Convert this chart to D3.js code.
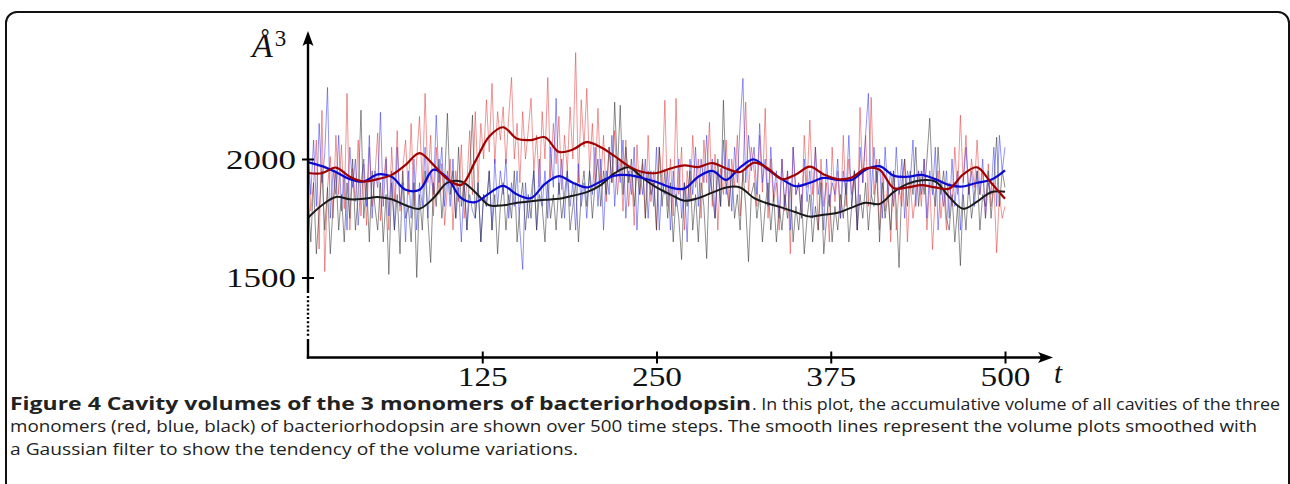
<!DOCTYPE html>
<html><head><meta charset="utf-8">
<script src="https://cdn.jsdelivr.net/npm/d3@7/dist/d3.min.js"></script>
<style>
html,body{margin:0;padding:0;background:#fff;}
svg{display:block;}
</style></head>
<body>
<svg id="chart" width="1290" height="484"></svg>
<script>
// ---- data ----
const rawSteps = d3.range(0, 501, 2);      // time steps of raw samples
const smoothSteps = d3.range(0, 501, 10);  // time steps of smoothed samples
const yTicks = [1500, 2000];
const xTicks = [125, 250, 375, 500];

const redRaw = [
2040,1780,1900,2080,1620,2205,1525,1880,2010,1750,
2100,1850,2060,1790,2277,1700,1960,1820,2080,1760,
1980,1720,2050,1800,1930,2110,1740,1900,2010,1700,
2050,1820,2120,1780,1960,2080,1850,2150,1800,2000,
2180,1880,2277,1900,2100,1760,2050,1850,1980,1720,
1880,2000,1700,1950,1820,2060,1750,1900,2120,1850,
2200,1900,2150,2000,2250,2030,2319,1980,2200,2080,
2220,1980,2180,2344,2000,2150,1900,2200,2000,2120,
2256,1950,2100,1880,2200,2000,2344,1920,2150,1980,
2180,1870,2100,1950,2220,2000,2449,1900,2250,2050,
2298,1950,2150,1880,2214,1900,2100,1820,2050,1900,
2120,1850,2000,1780,2080,1800,1950,1720,2060,1850,
1980,1750,2100,1820,1950,1700,2050,1900,2248,1800,
2000,1760,2256,1850,2050,1700,1950,1820,2100,1880,
2000,1750,2080,1900,2155,1800,2020,1700,1960,1850,
2080,1800,2000,1880,2100,1760,1950,2240,1850,2050,
1950,1800,2100,1860,2214,1750,2000,1820,1900,1700,
2000,1780,1950,1600,2050,1850,1900,1750,2100,1880,
2164,1850,2050,1700,2000,1800,1900,1650,2050,1820,
1950,1750,2100,1800,2000,1850,1950,1700,2218,1900,
2100,1800,2260,1850,2000,1700,1950,1780,1900,1650,
1950,1700,1880,1800,2000,1650,1900,1750,1850,1950,
1800,2000,1700,1900,1618,1850,1950,1750,1880,1700,
1900,1800,2050,1850,2185,1900,2100,1850,2000,1880,
2080,1850,1950,1750,1980,1800,1900,1605,1850,1750,
1800];

const blueRaw = [
2050,1850,2080,1800,2150,1900,2020,2302,1750,1950,
1850,2100,1780,1950,1700,2050,1880,2000,1720,1900,
2000,1800,2100,1750,1950,1880,2197,1800,2000,1760,
1950,1700,2050,1800,1900,1650,1950,1750,2000,1700,
1900,1800,2050,1750,1950,1850,2185,1900,2050,1800,
1950,1800,2000,1750,1880,1650,1900,1700,1850,1780,
1750,1900,1650,1850,1800,1950,1700,2000,1800,1950,
1850,2000,1750,1900,1800,1950,1700,1534,1900,1750,
1850,1950,1700,2000,1800,1950,1750,2050,1880,2256,
1850,2000,1750,1950,1800,1900,1700,1980,1800,1900,
1750,1950,1850,2050,1800,2000,1700,1950,1850,2100,
1800,2000,1900,2080,1750,1950,1850,2050,1700,1950,
1850,2000,1750,1950,1800,2050,1700,1900,1850,1950,
1700,1950,1800,2000,1750,1900,1650,2000,1850,2050,
1800,2000,1900,2100,1850,2000,1750,1950,1800,2080,
1850,2000,1780,2050,1900,2150,2340,1900,2100,1950,
2050,1850,2150,1900,2000,1800,2050,1850,1950,1750,
2000,1800,1950,1700,2050,1850,1900,1750,2000,1820,
1950,1750,2050,1850,1950,1700,2000,1800,1900,1850,
2000,1750,1950,1850,2100,1800,1950,1700,2050,1900,
2100,2277,1850,2050,1900,2000,1750,2050,1850,1950,
1800,2050,1850,2000,1750,1950,1900,2080,1800,1950,
1850,2000,1750,1950,1850,2050,1700,1900,1800,1950,
1750,2000,1800,1950,1700,1900,2050,1850,1950,1800,
1950,1850,2000,1750,1900,1850,2050,1800,2100,1950,
2050];

const blackRaw = [
1850,1650,1900,1600,1780,1950,1700,1880,1600,1800,
1950,1700,1850,1650,1900,1750,2000,1700,1850,2206,
1750,1900,1650,1950,1800,1700,1900,1650,1850,1513,
1900,1700,1850,1600,1950,1750,1800,1650,1900,1500,
1850,1700,1950,1750,1563,1900,1800,2000,1750,1900,
2193,1850,1950,1750,2050,1800,1900,1700,1950,2185,
1750,1900,1650,1850,1800,1950,1700,1850,1600,1800,
1900,1700,1850,1750,1950,1650,1800,1900,1700,1850,
1750,1950,1700,1850,1800,1650,1900,1750,1850,1700,
1900,1750,1850,1950,1700,1800,1900,1650,1850,1950,
1800,1950,1750,1900,2000,1800,1950,1850,2050,1900,
2240,1950,2227,1850,2050,1900,2000,1800,1950,1850,
2000,1750,1950,1850,1900,1700,2050,1800,1950,1750,
1900,1650,1850,1750,1576,1900,1800,1950,1700,1850,
1650,1900,1800,1580,1950,1850,1750,2000,1800,2248,
1900,1800,1950,1750,1850,1700,1950,1800,1567,1850,
1900,1750,1850,1650,1800,1900,1700,1850,1650,1800,
1700,1850,1750,1900,1650,1800,1700,1850,1600,1750,
1850,1650,1800,1700,1900,1600,1750,1850,1650,1800,
1700,1850,1750,1900,1650,1800,1950,1700,1850,1750,
1900,1700,1850,1800,1950,1650,1900,1750,1850,1700,
1950,1800,1542,1900,2000,1800,1950,1850,2050,1800,
1950,1850,2000,2172,1900,1800,2050,1850,1950,1750,
1700,1850,1650,1800,1550,1850,1700,1900,1750,1850,
1950,1700,1850,1800,1950,1750,1900,2092,1800,1950,
1880];

const redSmooth = [1941,1940,1964,1925,1905,1915,1933,1975,2025,1975,
1915,1891,1990,2095,2134,2085,2080,2092,2030,2040,
2071,2050,2012,1970,1945,1941,1960,1973,1966,1983,
1960,1945,1985,1960,1915,1935,1968,1935,1915,1922,
1960,1955,1878,1880,1890,1880,1875,1935,1965,1900,1832];

const blueSmooth = [1987,1970,1945,1915,1905,1935,1925,1870,1870,1955,
1920,1835,1818,1855,1887,1850,1835,1895,1928,1900,
1880,1905,1930,1932,1920,1903,1880,1875,1925,1950,
1912,1965,1998,1955,1915,1885,1900,1920,1912,1912,
1955,1970,1930,1925,1933,1915,1890,1884,1900,1912,1952];

const blackSmooth = [1752,1805,1840,1830,1832,1840,1830,1805,1790,1835,
1900,1905,1860,1805,1805,1815,1822,1828,1832,1845,
1860,1890,1940,1965,1920,1880,1850,1824,1835,1858,
1880,1880,1835,1812,1795,1775,1757,1765,1773,1795,
1815,1810,1860,1895,1910,1905,1840,1790,1820,1860,1862];

const captionBold = "Figure 4 Cavity volumes of the 3 monomers of bacteriorhodopsin";
const captionLines = [
  ". In this plot, the accumulative volume of all cavities of the three",
  "monomers (red, blue, black) of bacteriorhodopsin are shown over 500 time steps. The smooth lines represent the volume plots smoothed with",
  "a Gaussian filter to show the tendency of the volume variations."
];

// ---- drawing ----
const svg = d3.select("#chart");

// figure frame
svg.append("rect").attr("x", 6).attr("y", 12).attr("width", 1283).attr("height", 520)
  .attr("rx", 11).attr("ry", 11).attr("fill", "none").attr("stroke", "#111").attr("stroke-width", 2);

const x = d3.scaleLinear().domain([0, 500]).range([308, 1005]);
const y = d3.scaleLinear().domain([1500, 2000]).range([277.5, 159]);

const rawLine = d3.line().x((d, i) => x(rawSteps[i])).y(d => y(d));
const smoothLine = d3.line().x((d, i) => x(smoothSteps[i])).y(d => y(d)).curve(d3.curveCatmullRom.alpha(0.5));

const plot = svg.append("g");
plot.append("path").datum(redRaw).attr("d", rawLine).attr("fill", "none")
  .attr("stroke", "#e03030").attr("stroke-opacity", 0.5).attr("stroke-width", 1);
plot.append("path").datum(blueRaw).attr("d", rawLine).attr("fill", "none")
  .attr("stroke", "#2a2af0").attr("stroke-opacity", 0.5).attr("stroke-width", 1);
plot.append("path").datum(blackRaw).attr("d", rawLine).attr("fill", "none")
  .attr("stroke", "#333").attr("stroke-opacity", 0.55).attr("stroke-width", 1);

plot.append("path").datum(blackSmooth).attr("d", smoothLine).attr("fill", "none")
  .attr("stroke", "#1a1a1a").attr("stroke-width", 2);
plot.append("path").datum(blueSmooth).attr("d", smoothLine).attr("fill", "none")
  .attr("stroke", "#0a0ad0").attr("stroke-width", 2.2);
plot.append("path").datum(redSmooth).attr("d", smoothLine).attr("fill", "none")
  .attr("stroke", "#a00000").attr("stroke-width", 2.2);

// axes lines
const ax = svg.append("g").attr("stroke", "#000").attr("stroke-width", 2.4).attr("fill", "none");
const x0 = x(0), yBase = 357.5;
ax.append("line").attr("x1", x0).attr("x2", x0).attr("y1", y(1500)).attr("y2", 40);
ax.append("line").attr("x1", x0).attr("x2", x0).attr("y1", y(1500)).attr("y2", 293);
ax.append("line").attr("x1", x0).attr("x2", x0).attr("y1", 296).attr("y2", 338).attr("stroke-dasharray", "2,2.2");
ax.append("line").attr("x1", x0).attr("x2", x0).attr("y1", 339).attr("y2", yBase + 1.2);
ax.append("line").attr("x1", x0 - 1.2).attr("x2", 1045).attr("y1", yBase).attr("y2", yBase);

// arrowheads
svg.append("path").attr("d", `M${x0},31 L${x0 - 5.5},46 Q${x0},41 ${x0 + 5.5},46 Z`).attr("fill", "#000");
svg.append("path").attr("d", `M1053,${yBase} L1038,${yBase - 5.5} Q1043,${yBase} 1038,${yBase + 5.5} Z`).attr("fill", "#000");

// tick axes via d3
const serif = "'Liberation Serif', 'DejaVu Serif', serif";
const yAxis = d3.axisLeft(y).tickValues(yTicks).tickSize(0).tickPadding(12).tickFormat(d3.format("d"));
const gy = svg.append("g").attr("transform", `translate(${x0},0)`).call(yAxis);
gy.select(".domain").remove();
gy.selectAll(".tick").append("line").attr("x1", -6).attr("x2", 6).attr("stroke", "#000").attr("stroke-width", 2);
gy.selectAll("text").attr("font-family", serif).attr("font-size", 27)
  .attr("fill", "#111").attr("dy", "0.34em")
  .attr("textLength", 70).attr("lengthAdjust", "spacingAndGlyphs");

const xAxis = d3.axisBottom(x).tickValues(xTicks).tickSize(0).tickPadding(9).tickFormat(d3.format("d"));
const gx = svg.append("g").attr("transform", `translate(0,${yBase})`).call(xAxis);
gx.select(".domain").remove();
gx.selectAll(".tick").append("line").attr("y1", -6).attr("y2", 6).attr("stroke", "#000").attr("stroke-width", 2);
gx.selectAll("text").attr("font-family", serif).attr("font-size", 27)
  .attr("fill", "#111").attr("dy", "0.71em")
  .attr("textLength", 50).attr("lengthAdjust", "spacingAndGlyphs");

// axis titles
svg.append("text").attr("x", 1054).attr("y", 383).attr("font-family", serif)
  .attr("font-style", "italic").attr("font-size", 29).attr("fill", "#111").text("t");
const yl = svg.append("text").attr("x", 252).attr("y", 57).attr("font-family", serif)
  .attr("font-size", 34).attr("fill", "#111");
yl.append("tspan").attr("font-style", "italic").text("Å");
yl.append("tspan").attr("font-size", 23).attr("dx", 2).attr("dy", -11).text("3");

// caption
const capFont = "'Open Sans', 'Noto Sans', sans-serif";
svg.append("text").attr("x", 10).attr("y", 410).attr("font-family", capFont).attr("font-weight", "bold")
  .attr("font-size", 17).attr("fill", "#222").attr("textLength", 741).attr("lengthAdjust", "spacingAndGlyphs")
  .text(captionBold);
const capW = [528, 1247, 568];
const capX = [752, 10, 10];
const capY = [410, 432, 455];
captionLines.forEach((t, i) => {
  svg.append("text").attr("x", capX[i]).attr("y", capY[i]).attr("font-family", capFont)
    .attr("font-size", 17).attr("fill", "#222").attr("textLength", capW[i]).attr("lengthAdjust", "spacingAndGlyphs")
    .text(t);
});
</script>
</body></html>
